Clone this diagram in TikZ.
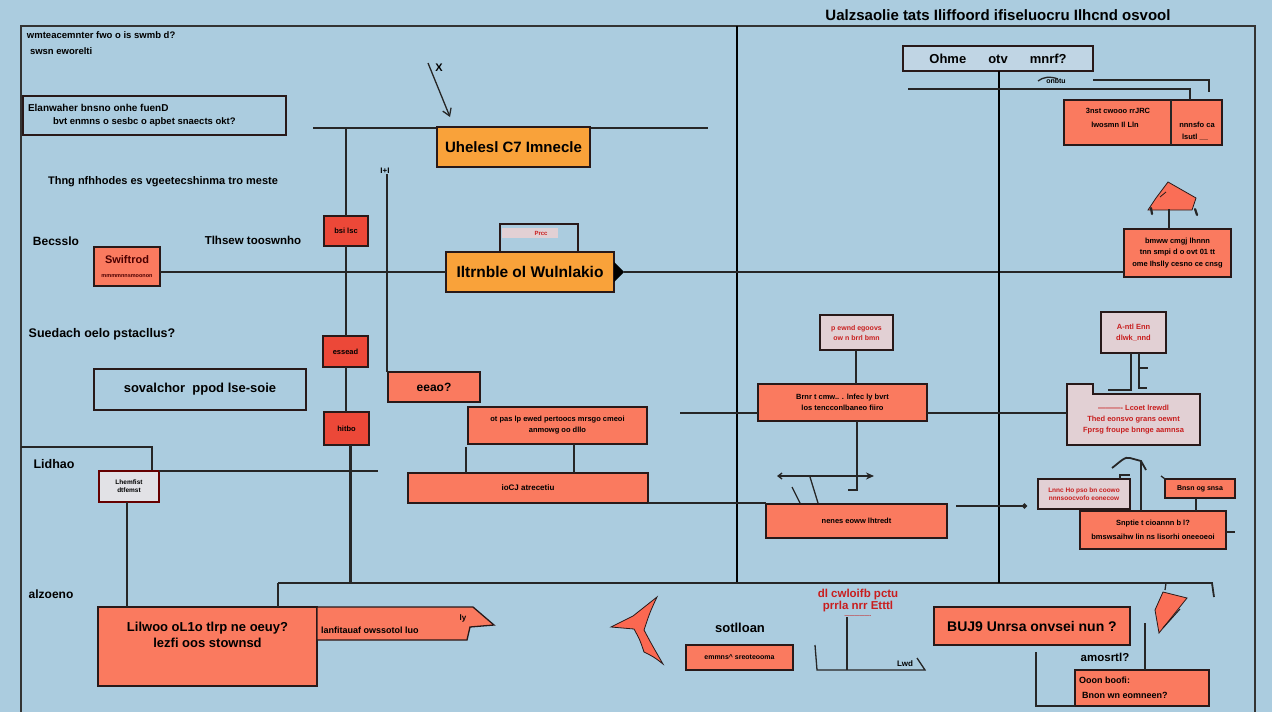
\documentclass[tikz,border=0pt]{standalone}
\usepackage{fontspec}
\setmainfont{Liberation Sans}
\usetikzlibrary{arrows.meta,calc}
\definecolor{bgc}{RGB}{171,204,223}
\definecolor{salm}{RGB}{250,122,95}
\definecolor{redb}{RGB}{236,72,56}
\definecolor{orgb}{RGB}{249,162,58}
\definecolor{pnkb}{RGB}{226,208,212}
\definecolor{txtred}{RGB}{200,30,30}
\definecolor{otc}{RGB}{192,213,228}
\definecolor{edge}{RGB}{40,25,25}
\definecolor{grayb}{RGB}{226,226,230}
\pgfdeclarelayer{back}\pgfsetlayers{back,main}
\newcommand\rbox[7]{\node[#6,minimum width={(#4)-(#2)},minimum height={(#5)-(#3)}] (#1) at ({((#2)+(#4))/2},{((#3)+(#5))/2}) {#7};}
\begin{document}
\begin{tikzpicture}[x=1pt,y=-1pt,
  fs/.style 2 args={font=\fontsize{#1}{#2}\selectfont\bfseries},
  base/.style={inner sep=0pt,outer sep=0pt,align=center,text=black},
  txt/.style={base},
  obox/.style={base,draw=edge,line width=1.3pt},
  sal/.style={base,draw=edge,line width=1.3pt,fill=salm},
  redbx/.style={base,draw=edge,line width=1.3pt,fill=redb},
  org/.style={base,draw=edge,line width=1.3pt,fill=orgb},
  pnk/.style={base,draw=edge,line width=1.3pt,fill=pnkb,text=txtred},
  conn/.style={draw=black!85,line width=1.3pt},
  frame/.style={draw=black!80,line width=1.3pt},
  heavy/.style={draw=black,line width=2.8pt},
  shp/.style={fill=salm,draw=edge,line width=1pt}]
\useasboundingbox (0,0) rectangle (1272,712);
\begin{pgfonlayer}{back}
\fill[bgc] (0,0) rectangle (1272,712);
\coordinate (TL) at (21,26); \coordinate (TR) at (1255,26);
\coordinate (BL) at (21,712); \coordinate (BR) at (1255,712);
\draw[frame] (BL) -- (TL) -- (TR) -- (BR);
\coordinate (V1t) at (737,26); \coordinate (V1b) at (737,583);
\draw[heavy] (V1t) -- (V1b);
\coordinate (H1a) at (278,583); \coordinate (H1b) at (1212,583);
\draw[conn,line width=1.8pt] (H1a) -- (H1b);
\coordinate (h128a) at (313,128); \coordinate (h128b) at (708,128);
\draw[conn] (h128a) -- (h128b);
\coordinate (v346) at (346,128);
\end{pgfonlayer}

% title and free texts
\node[txt,fs={15}{18}] (title) at (998,15) {Ualzsaolie tats Iliffoord ifiseluocru Ilhcnd osvool};
\node[txt,fs={9.5}{11},anchor=west] (t1a) at (27,35) {wmteacemnter fwo o is swmb d?};
\node[txt,fs={9.5}{11},anchor=west] (t1b) at (30,51) {swsn eworelti};
\rbox{b2}{23}{96}{286}{135}{obox}{}
\node[txt,fs={10}{12},anchor=west] (b2a) at (28,108) {Elanwaher bnsno onhe fuenD};
\node[txt,fs={9.5}{11},anchor=west] (b2b) at (53,122) {bvt enmns o sesbc o apbet snaects okt?};
\node[txt,fs={11}{13}] (t3) at (163,182) {Thng nfhhodes es vgeetecshinma tro meste};
\node[txt,fs={12}{14}] (becs) at (56,241) {Becsslo};
\node[txt,fs={11.5}{14}] (tlh) at (253,240) {Tlhsew tooswnho};
\node[txt,fs={12.5}{15}] (sued) at (102,334) {Suedach oelo pstacllus?};
\node[txt,fs={12.5}{15}] (lidh) at (54,464) {Lidhao};
\node[txt,fs={12}{14}] (alz) at (51,594) {alzoeno};

% arrow with X
\node[txt,fs={11}{13}] (xl) at (439,68) {X};
\coordinate (a1) at (428,63); \coordinate (a2) at (450,117);
\draw[conn,-{Straight Barb[length=7pt,width=9pt]}] (a1) -- (a2);

% centre column
\rbox{o1}{437}{127}{590}{167}{org,fs={15}{18}}{Uhelesl C7 Imnecle}
\node[txt,fs={8}{10}] (plus) at (385,171) {I+I};
\rbox{o2}{446}{252}{614}{292}{org,fs={15.5}{18}}{Iltrnble ol Wulnlakio}
\fill[black] (o2.east) ++(0,-10) -- ++(10,10) -- ++(-10,10) -- cycle;
\rbox{p1}{500}{224}{578}{252}{obox}{}
\rbox{p1bar}{502}{228}{558}{238}{base,fill=pnkb,text=txtred,fs={6}{7}}{\hspace*{22pt}Prcc}
\rbox{s1}{94}{247}{160}{286}{sal,text=black!70!red}{{\fontsize{11}{13}\selectfont\bfseries Swiftrod}\\[2pt]{\fontsize{5.5}{6}\selectfont\bfseries mmmmnnsmoonon}}
\rbox{r1}{324}{216}{368}{246}{redbx,fs={7.5}{9}}{bsi lsc}
\rbox{r2}{323}{336}{368}{367}{redbx,fs={7.5}{9}}{essead}
\rbox{r3}{324}{412}{369}{445}{redbx,fs={7.5}{9}}{hitbo}
\rbox{b14}{94}{369}{306}{410}{obox,fs={13}{15}}{sovalchor\ \ ppod lse-soie}
\rbox{e1}{388}{372}{480}{402}{sal,fs={12}{14}}{eeao?}
\rbox{s17}{468}{407}{647}{444}{sal,fs={7.5}{11}}{ot pas lp ewed pertoocs mrsgo cmeoi\\anmowg oo dllo}
\rbox{s19}{408}{473}{648}{503}{sal,fs={8}{10}}{ioCJ atrecetiu}
\rbox{w1}{99}{471}{159}{502}{base,draw=black!60!red,line width=1.2pt,fill=grayb,fs={6.5}{8}}{Lhemfist\\dtfemst}
\rbox{l1}{98}{607}{317}{686}{sal,fs={13}{16}}{Lilwoo oL1o tlrp ne oeuy?\\lezfi oos stownsd\\[8pt]}
\filldraw[shp,line width=1.3pt] (317,607) -- (473,607) -- (494,625) -- (470,627) -- (467,640) -- (317,640) -- cycle;
\node[txt,fs={9}{10},anchor=west] (l2t) at (321,630) {lanfitauaf owssotol luo};
\node[txt,fs={8}{9}] (l2y) at (463,618) {ly};

% star shape
\filldraw[fill=salm!85!red,draw=edge,line width=0.8pt] (611,627) -- (633,616) -- (657,597) .. controls (650,612) .. (644,630) .. controls (652,645) .. (663,664) .. controls (654,657) .. (644,652) .. controls (640,640) .. (634,629) -- cycle;
\node[txt,fs={13}{15}] (sotl) at (740,628) {sotlloan};
\rbox{m1}{686}{645}{793}{670}{sal,fs={7}{8}}{emmns\^{} sreoteooma}
\node[txt,fs={11.5}{12},text=txtred] (rt) at (858,603) {dl cwloifb pctu\\prrla nrr Etttl\\[-4pt]{\fontsize{5}{6}\selectfont ----------------}};
\node[txt,fs={8}{9}] (lwd) at (905,664) {Lwd};

% top right
\rbox{ot}{903}{46}{1093}{71}{obox,fill=otc,fs={13}{15}}{Ohme\hspace{22pt}otv\hspace{22pt}mnrf?}
\node[txt,fs={7}{8}] (onb) at (1056,81) {onbtu};
\rbox{rb}{1064}{100}{1222}{145}{sal}{}
\node[txt,fs={7.5}{9}] (rb1) at (1118,111) {3nst cwooo rrJRC};
\node[txt,fs={7.5}{9}] (rb2) at (1115,125) {lwosmn Il Lln};
\node[txt,fs={7.5}{9}] (rb3) at (1197,125) {nnnsfo ca};
\node[txt,fs={7.5}{9}] (rb4) at (1195,137) {lsutl \_\_};
\rbox{rc}{1124}{229}{1231}{277}{sal,fs={7.5}{11.5}}{bmww cmgj lhnnn\\tnn smpi d o ovt 01 tt\\ome Ihslly cesno ce cnsg}
\rbox{pk1}{1101}{312}{1166}{353}{pnk,fs={7.5}{11}}{A-ntl Enn\\dlwk\_nnd}
\rbox{pk2}{1067}{394}{1200}{445}{pnk,fs={7.5}{11}}{---------- Lcoet lrewdl\\Thed eonsvo grans oewnt\\Fprsg froupe bnnge aamnsa}
\rbox{pk2tab}{1067}{384}{1093}{395}{base,fill=pnkb}{}
\draw[edge,line width=1.3pt] (pk2tab.south west) |- (pk2tab.north east) -- (pk2tab.south east);
\rbox{pk3}{820}{315}{893}{350}{pnk,fs={7}{10}}{p ewnd egoovs\\ow n brrl bmn}
\rbox{s43}{758}{384}{927}{421}{sal,fs={7.5}{11}}{Brnr t cmw.. . lnfec ly bvrt\\los tencconlbaneo fiiro}
\rbox{s44}{766}{504}{947}{538}{sal,fs={7.5}{9}}{nenes eoww lhtredt}
\rbox{pk4}{1038}{479}{1130}{509}{pnk,fs={6.5}{8.5}}{Lnnc Ho pso bn coowo\\nnnsoocvofo eonecow}
\rbox{s46}{1165}{479}{1235}{498}{sal,fs={7}{8}}{Bnsn og snsa}
\rbox{s47}{1080}{511}{1226}{549}{sal,fs={7.5}{14}}{Snptie t cioannn b l?\\bmswsaihw lin ns lisorhi oneeoeoi}
\rbox{s48}{934}{607}{1130}{645}{sal,fs={14}{16}}{BUJ9 Unrsa onvsei nun ?}
\node[txt,fs={11.5}{13}] (amo) at (1105,657) {amosrtl?};
\rbox{s49}{1075}{670}{1209}{706}{sal}{}
\node[txt,fs={9}{11},anchor=west] (s49a) at (1079,680) {Ooon boofi:};
\node[txt,fs={9}{11},anchor=west] (s49b) at (1082,695) {Bnon wn eomneen?};

% shapes right
\filldraw[fill=salm!90!red,draw=edge,line width=0.8pt] (1148,210) -- (1156,198) -- (1168,182) -- (1196,198) -- (1192,210) -- cycle;
\draw[edge,line width=0.8pt] (1160,197) -- (1166,192);
\filldraw[fill=salm!90!red,draw=edge,line width=0.8pt] (1163,592) -- (1187,598) -- (1159,633) -- (1155,610) -- cycle;
\draw[edge,line width=1pt] (1180,609) -- (1163,628);

% connectors
\draw[conn] (v346) -- (r1.north -| v346);
\draw[conn] (r1.south -| v346) -- (r2.north -| v346);
\draw[conn] (r2.south -| v346) -- (r3.north -| v346);
\draw[conn,line width=2.2pt] (r3.south) ++(4,0) coordinate (r3s) -- (r3s |- H1a);
\draw[conn] (plus.south) ++(2,0) coordinate (pls) -- (pls |- e1.north);
\draw[conn] (s1.east |- o2.west) -- (o2.west);
\draw[conn] ($(o2.east)+(10,0)$) -- (rc.west |- o2.east);
\draw[conn] (s17.south -| 574,0) -- (s19.north -| 574,0);
\coordinate (c466) at (466,447);
\draw[conn] (c466) -- (s19.north -| c466);
\draw[conn] (s19.south east) -- (s19.south east -| s44.west);
\coordinate (c447) at (21,447);
\draw[conn] (c447) -| ($(w1.north east)+(-7,-1)$);
\coordinate (c378) at (378,471);
\draw[conn] (w1.north east |- c378) -- (c378);
\draw[conn] (w1.south -| 127,0) -- (l1.north -| 127,0);
\draw[conn] (l1.north -| H1a) -- (H1a);
\draw[heavy] (ot.south -| 999,0) -- (999,583) coordinate (V2b);
\coordinate (c908) at (908,89);
\draw[conn] (c908) -| (rb.north -| 1190,0);
\draw[conn] (ot.east |- 0,80) -| (1209,92) coordinate (c1209);
\draw[conn] (1038,81) .. controls (1043,77) and (1050,76) .. (1058,79);
\draw[conn] (rb.north -| 1171,0) -- (rb.south -| 1171,0);
\draw[conn] (1169,209) -- (rc.north -| 1169,0);
\draw[conn,line width=2.2pt,line cap=round] (1151,208) -- (1152,214) (1195,209) -- (1197,215);
\draw[conn] (pk1.south -| 1131,0) -- (1131,390) -- (1108,390);
\draw[conn] (pk1.south -| 1139,0) -- (1139,388) -- (1147,388);
\draw[conn] (1139,368) -- (1148,368);
\coordinate (c680) at (680,413);
\draw[conn] (c680) -- (s43.west |- c680);
\draw[conn] (s43.east |- c680) -- (pk2.west |- c680);
\draw[conn] (pk3.south -| 856,0) -- (s43.north -| 856,0);
\draw[conn] (s43.south -| 857,0) -- (857,490) coordinate (c857) -- ++(-9,0);
\coordinate (ar1) at (777,476); \coordinate (ar2) at (874,476);
\draw[conn,{Straight Barb[length=4pt,width=6pt]}-{Stealth[length=8pt,width=7pt]}] (ar1) -- (ar2);
\draw[conn] (792,487) -- (800,503) (810,477) -- (818,503);
\coordinate (c956) at (956,506); \coordinate (c1027) at (1027,506);
\draw[conn,-{Circle[length=5pt]}] (c956) -- (c1027);
\draw[conn] (1141,461) -- (s47.north -| 1141,0);
\draw[conn,line width=1.8pt] (1112,468) .. controls (1120,462) and (1125,456) .. (1130,458) -- (1141,461) -- (1146,470);
\draw[conn] (s46.south -| 1196,0) -- (s47.north -| 1196,0);
\draw[conn] (pk4.north east) ++(-10,0) coordinate (pk4n) -- ++(0,-4) -- ++(10,0);
\draw[conn,line width=2.5pt] (s47.east) ++(0,2) -- ++(9,0);
\draw[conn] (s46.north west) -- ++(-4,-3);
\coordinate (c1036) at (1036,652);
\draw[conn] (c1036) |- (s49.south west);
\draw[conn] (1145,623) -- (s49.north -| 1145,0);
\draw[conn] (1166,583) -- (1165,590);
\draw[conn,line width=1.8pt] (1205,583) -- (1212,583) -- (1214,597);
\draw[conn] (847,617) -- (847,670) coordinate (c847);
\draw[conn] (815,645) -- (817,670) -- (925,670) -- (917,658);
\end{tikzpicture}
\end{document}
